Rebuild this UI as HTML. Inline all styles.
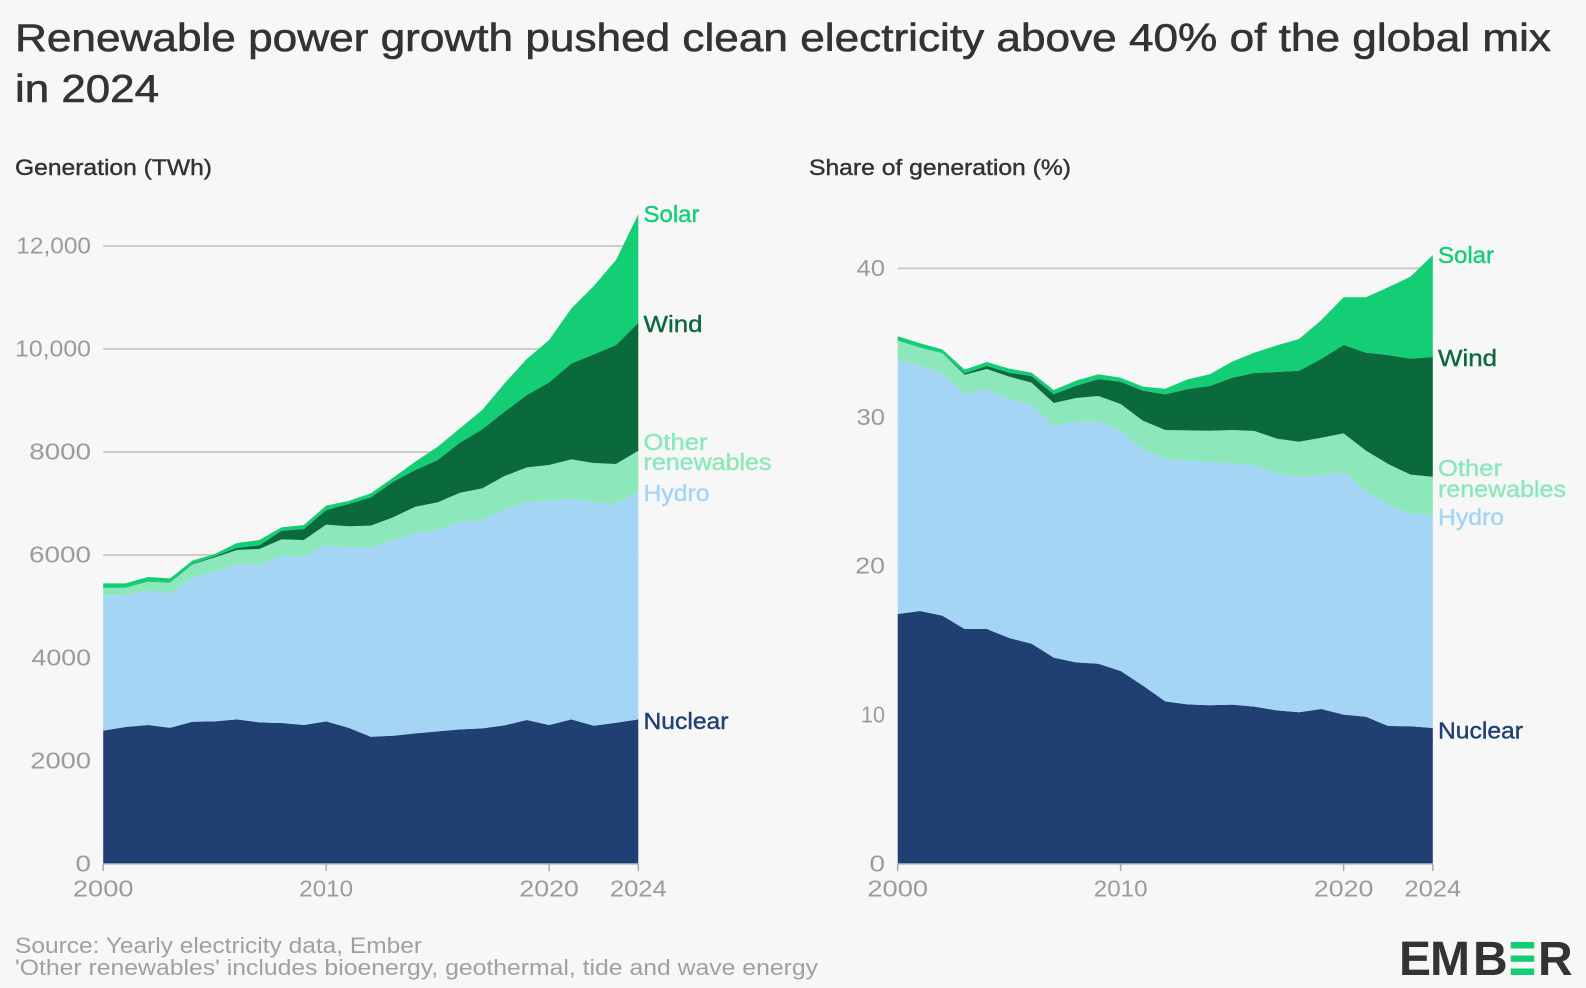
<!DOCTYPE html>
<html lang="en">
<head>
<meta charset="utf-8">
<title>Renewable power growth pushed clean electricity above 40% of the global mix in 2024</title>
<style>
  html, body { margin: 0; padding: 0; background: #f7f7f7; }
  svg { display: block; }
  text { font-family: "Liberation Sans", sans-serif; }
  .title { font-size: 39px; fill: #333; stroke: #333; stroke-width: 0.6px; }
  .sub { font-size: 22px; fill: #333; stroke: #333; stroke-width: 0.4px; }
  .tick { font-size: 23.5px; fill: #9b9b9b; }
  .lab { font-size: 23px; stroke-width: 0.4px; }
  .foot { font-size: 22px; fill: #a0a0a0; }
  .logo { font-size: 48px; font-weight: bold; fill: #333; }
</style>
</head>
<body>
<svg id="chart" xmlns="http://www.w3.org/2000/svg" width="1586" height="988" viewBox="0 0 1586 988">
  <rect x="0" y="0" width="1586" height="988" fill="#f7f7f7"/>
  <text class="title" x="15" y="51" textLength="1536" lengthAdjust="spacingAndGlyphs">Renewable power growth pushed clean electricity above 40% of the global mix</text>
  <text class="title" x="15" y="102" textLength="144" lengthAdjust="spacingAndGlyphs">in 2024</text>
  <text class="sub" x="15" y="175" textLength="197" lengthAdjust="spacingAndGlyphs">Generation (TWh)</text>
  <text class="sub" x="809" y="175" textLength="262" lengthAdjust="spacingAndGlyphs">Share of generation (%)</text>

  <g id="left-grid"></g>
  <g id="right-grid"></g>
  <g id="left-areas"></g>
  <g id="right-areas"></g>
  <g id="left-axes"></g>
  <g id="right-axes"></g>

  <g>
    <text class="lab" x="643.5" y="222" fill="#13ce74" stroke="#13ce74" textLength="56" lengthAdjust="spacingAndGlyphs">Solar</text>
    <text class="lab" x="643.5" y="332" fill="#0b6a3c" stroke="#0b6a3c" textLength="59" lengthAdjust="spacingAndGlyphs">Wind</text>
    <text class="lab" x="643.5" y="450" fill="#8ce8bb" stroke="#8ce8bb" textLength="64" lengthAdjust="spacingAndGlyphs">Other</text>
    <text class="lab" x="643.5" y="470" fill="#8ce8bb" stroke="#8ce8bb" textLength="128" lengthAdjust="spacingAndGlyphs">renewables</text>
    <text class="lab" x="643.5" y="501" fill="#a4d5f5" stroke="#a4d5f5" textLength="66" lengthAdjust="spacingAndGlyphs">Hydro</text>
    <text class="lab" x="643.5" y="729" fill="#204073" stroke="#204073" textLength="85" lengthAdjust="spacingAndGlyphs">Nuclear</text>
  </g>
  <g>
    <text class="lab" x="1438" y="263" fill="#13ce74" stroke="#13ce74" textLength="56" lengthAdjust="spacingAndGlyphs">Solar</text>
    <text class="lab" x="1438" y="366" fill="#0b6a3c" stroke="#0b6a3c" textLength="59" lengthAdjust="spacingAndGlyphs">Wind</text>
    <text class="lab" x="1438" y="476" fill="#8ce8bb" stroke="#8ce8bb" textLength="64" lengthAdjust="spacingAndGlyphs">Other</text>
    <text class="lab" x="1438" y="497" fill="#8ce8bb" stroke="#8ce8bb" textLength="128" lengthAdjust="spacingAndGlyphs">renewables</text>
    <text class="lab" x="1438" y="525" fill="#a4d5f5" stroke="#a4d5f5" textLength="66" lengthAdjust="spacingAndGlyphs">Hydro</text>
    <text class="lab" x="1438" y="738.5" fill="#204073" stroke="#204073" textLength="85" lengthAdjust="spacingAndGlyphs">Nuclear</text>
  </g>

  <text class="foot" x="15" y="953" textLength="407" lengthAdjust="spacingAndGlyphs">Source: Yearly electricity data, Ember</text>
  <text class="foot" x="15" y="975" textLength="803" lengthAdjust="spacingAndGlyphs">'Other renewables' includes bioenergy, geothermal, tide and wave energy</text>

  <g>
    <text class="logo" x="1399 1430 1473" y="975">EMB</text>
    <rect x="1510.7" y="942" width="23.5" height="6.5" fill="#13ce74"/>
    <rect x="1510.7" y="955.5" width="23.5" height="6.3" fill="#13ce74"/>
    <rect x="1510.7" y="968.5" width="23.5" height="6.5" fill="#13ce74"/>
    <text class="logo" x="1538" y="975">R</text>
  </g>
</svg>

<script>
const years = [2000,2001,2002,2003,2004,2005,2006,2007,2008,2009,2010,2011,2012,2013,2014,2015,2016,2017,2018,2019,2020,2021,2022,2023,2024];
const xTickYears = [2000,2010,2020,2024];

const seriesNames = ['nuclear','hydro','other','wind','solar'];
const seriesColors = ['#204073','#a4d5f5','#8ce8bb','#0b6a3c','#13ce74'];

// Generation, TWh
const genNuclear = [2589,2660,2698,2646,2763,2769,2808,2750,2737,2698,2769,2646,2472,2491,2536,2575,2614,2633,2692,2795,2698,2808,2685,2743,2808];
const genHydro = [2627,2563,2610,2608,2803,2908,3017,3056,3250,3250,3425,3502,3670,3800,3891,3910,4027,4046,4194,4240,4350,4285,4331,4247,4421];
const genOther = [143,143,174,209,253,278,272,311,317,343,395,409,428,440,511,537,569,615,647,667,699,764,770,776,796];
const genWind = [3,4,6,7,9,20,45,71,168,214,285,433,550,692,712,822,971,1146,1250,1404,1605,1864,2110,2311,2486];
const genSolar = [88,80,85,77,62,44,91,103,65,78,84,59,77,78,162,259,278,375,550,699,822,1068,1326,1650,2109];
const genTicks = [0,2000,4000,6000,8000,10000,12000];
const genTickLabels = ['0','2000','4000','6000','8000','10,000','12,000'];

// Share of generation, %
const shareNuclear = [16.79,16.99,16.68,15.78,15.78,15.18,14.8,13.86,13.54,13.45,12.96,11.98,10.92,10.72,10.66,10.7,10.57,10.32,10.19,10.41,10.03,9.89,9.27,9.25,9.13];
const shareHydro = [17.13,16.48,16.3,15.76,16.1,16.07,16.05,15.58,16.17,16.3,16.1,15.89,16.28,16.37,16.32,16.19,16.23,15.92,15.8,15.74,16.27,15.12,14.91,14.26,14.31];
const shareOther = [1.23,1.21,1.32,1.32,1.36,1.48,1.48,1.52,1.59,1.68,1.83,1.9,1.95,2.03,2.12,2.26,2.28,2.33,2.37,2.48,2.62,2.75,2.68,2.64,2.57];
const shareWind = [0,0,0,0.09,0.21,0.27,0.44,0.6,0.82,1.14,1.5,2.02,2.39,2.78,3.0,3.51,3.9,4.47,4.77,5.29,5.94,6.58,7.32,7.79,8.04];
const shareSolar = [0.29,0.29,0.26,0.25,0.26,0.27,0.23,0.27,0.34,0.32,0.27,0.27,0.38,0.65,0.79,1.08,1.36,1.79,2.13,2.61,3.2,3.72,4.55,5.51,6.85];
const shareTicks = [0,10,20,30,40];
const shareTickLabels = ['0','10','20','30','40'];

const NS = 'http://www.w3.org/2000/svg';
const charWidth = { '0':15.5, '1':8.5, '2':14.2, '3':13, '4':13, '6':15.5, '8':15.2, ',':5.5 };

function labelWidth(s) {
  let w = 0;
  for (const c of s) w += charWidth[c] || 15;
  return w;
}

function drawPanel(side, series, ticks, tickLabels, left, right, baseY, pxPerUnit, labelRight) {
  const xScale = y => left + (y - years[0]) / (years[years.length - 1] - years[0]) * (right - left);
  const yScale = v => baseY - v * pxPerUnit;
  const grid = document.getElementById(side + '-grid');
  const areas = document.getElementById(side + '-areas');
  const axes = document.getElementById(side + '-axes');

  ticks.forEach((t, i) => {
    if (t !== 0) {
      const line = document.createElementNS(NS, 'line');
      
      
      line.setAttribute('x1', left);
      line.setAttribute('x2', right);
      line.setAttribute('y1', yScale(t));
      line.setAttribute('y2', yScale(t));
      line.setAttribute('stroke', '#cccccc');
      line.setAttribute('stroke-width', '2');
      grid.appendChild(line);
    }
    const w = labelWidth(tickLabels[i]);
    const label = document.createElementNS(NS, 'text');
    
    
    label.setAttribute('class', 'tick');
    label.setAttribute('x', labelRight - w);
    label.setAttribute('y', yScale(t) + 7.5);
    label.setAttribute('textLength', w);
    label.setAttribute('lengthAdjust', 'spacingAndGlyphs');
    label.textContent = tickLabels[i];
    axes.appendChild(label);
  });

  const floor = years.map(() => 0);
  series.forEach((values, s) => {
    const lower = floor.slice();
    const pts = [];
    values.forEach((v, i) => {
      floor[i] += v;
      pts.push(xScale(years[i]).toFixed(2) + ',' + yScale(floor[i]).toFixed(2));
    });
    for (let i = years.length - 1; i >= 0; i--) {
      pts.push(xScale(years[i]).toFixed(2) + ',' + yScale(lower[i]).toFixed(2));
    }
    const poly = document.createElementNS(NS, 'polygon');
    
    
    poly.setAttribute('points', pts.join(' '));
    poly.setAttribute('fill', seriesColors[s]);
    areas.appendChild(poly);
  });

  const axis = document.createElementNS(NS, 'line');
  
  
  axis.setAttribute('x1', left);
  axis.setAttribute('x2', right);
  axis.setAttribute('y1', baseY);
  axis.setAttribute('y2', baseY);
  axis.setAttribute('stroke', '#bbbbbb');
  axis.setAttribute('stroke-width', '1.5');
  axes.appendChild(axis);

  xTickYears.forEach(y => {
    const tick = document.createElementNS(NS, 'line');
    
    
    tick.setAttribute('x1', xScale(y));
    tick.setAttribute('x2', xScale(y));
    tick.setAttribute('y1', baseY);
    tick.setAttribute('y2', baseY + 7);
    tick.setAttribute('stroke', '#aaaaaa');
    tick.setAttribute('stroke-width', '1.5');
    axes.appendChild(tick);

    const text = String(y);
    const w = labelWidth(text);
    const label = document.createElementNS(NS, 'text');
    
    
    label.setAttribute('class', 'tick');
    label.setAttribute('x', xScale(y) - w / 2);
    label.setAttribute('y', baseY + 32.5);
    label.setAttribute('textLength', w);
    label.setAttribute('lengthAdjust', 'spacingAndGlyphs');
    label.textContent = text;
    axes.appendChild(label);
  });
}

drawPanel('left', [genNuclear, genHydro, genOther, genWind, genSolar], genTicks, genTickLabels, 103.2, 638.3, 864, 0.0515, 91);
drawPanel('right', [shareNuclear, shareHydro, shareOther, shareWind, shareSolar], shareTicks, shareTickLabels, 897.7, 1432.8, 864, 14.89, 885);
</script>
</body>
</html>
